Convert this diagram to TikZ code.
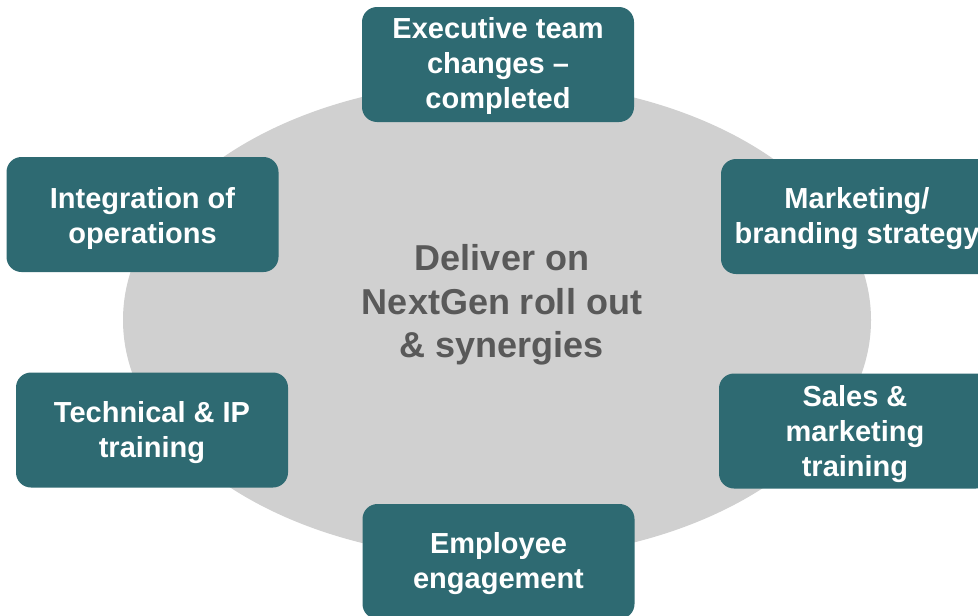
\documentclass[tikz,border=0pt]{standalone}
\usepackage{fontspec}
\setmainfont{Liberation Sans}
\usetikzlibrary{shapes.geometric}
\definecolor{teal1}{HTML}{2E6A72}
\definecolor{ellgray}{HTML}{D0D0D0}
\definecolor{txtgray}{HTML}{595959}
\tikzset{
  topic/.style={draw=none, fill=teal1, rounded corners=15pt, minimum width=272pt,
    minimum height=115pt, inner sep=0pt},
  topictext/.style={inner sep=0pt, text=white, align=center,
    font=\bfseries\fontsize{29}{35}\selectfont},
  hub/.style={ellipse, fill=ellgray, draw=none, minimum width=748pt, minimum height=478pt, inner sep=0pt},
  hubtext/.style={text=txtgray, align=center, font=\bfseries\fontsize{36}{43.6}\selectfont, inner sep=0pt}
}
\begin{document}
\begin{tikzpicture}[x=1pt,y=-1pt]
\useasboundingbox (0,0) rectangle (978,616);
\clip (0,0) rectangle (978,616);
\node[hub] (ell) at (497,320) {};
\node[hubtext] (hubt) at (502,305) {Deliver on\\NextGen roll out\\\& synergies};
\node[topic] (exec) at (498,64.5) {};
\node[topic] (mkt) at (857,216.5) {};
\node[topic] (sales) at (855,431) {};
\node[topic] (integ) at (142.5,214.5) {};
\node[topic] (tech) at (152,430) {};
\node[topic] (empl) at (498.5,561.5) {};
\node[topictext] (exect) at ([yshift=-1.5pt]exec.center) {Executive team\\changes –\\completed};
\node[topictext] (mktt) at ([yshift=-2pt]mkt.center) {Marketing/\\branding strategy};
\node[topictext] (salest) at ([yshift=-3pt]sales.center) {Sales \&\\marketing\\training};
\node[topictext] (integt) at ([yshift=-4pt]integ.center) {Integration of\\operations};
\node[topictext] (techt) at ([yshift=-2.5pt]tech.center) {Technical \& IP\\training};
\node[topictext] (emplt) at ([yshift=-2pt]empl.center) {Employee\\engagement};
\end{tikzpicture}
\end{document}
